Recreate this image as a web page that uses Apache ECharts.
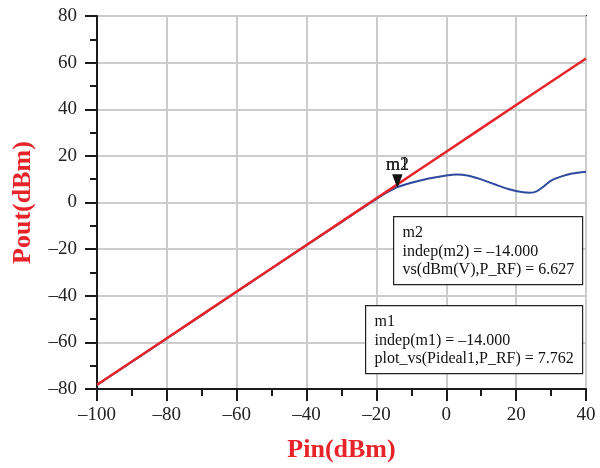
<!DOCTYPE html>
<html>
<head>
<meta charset="utf-8">
<script src="https://cdn.jsdelivr.net/npm/echarts@6/dist/echarts.min.js"></script>
<style>
  html, body { margin: 0; padding: 0; background: #fff; }
  #chart { width: 600px; height: 468px; }
</style>
</head>
<body>
<div id="chart"></div>
<script>
  // ideal (linear) output, red
  var pinIdeal = [-100, -90, -80, -70, -60, -50, -40, -30, -20, -14, -10, 0, 10, 20, 30, 40]
  var poutIdeal = [-78.2, -68.2, -58.2, -48.2, -38.2, -28.2, -18.2, -8.2, 1.8, 7.76, 11.8, 21.8, 31.8, 41.8, 51.8, 61.8]

  // simulated output, blue
  var pinReal = [-100, -80, -60, -40, -30, -25, -20, -17, -14, -10, -5, 0, 3, 6, 10, 14, 18, 22, 24, 26, 28, 30, 33, 36, 40]
  var poutReal = [-78.3, -58.3, -38.3, -18.3, -8.4, -3.4, 1.5, 4.3, 6.63, 8.5, 10.3, 11.6, 12.0, 11.6, 9.9, 7.7, 5.7, 4.4, 4.2, 4.9, 7.0, 9.4, 11.2, 12.4, 13.2]

  var xTicks = [-100, -80, -60, -40, -20, 0, 20, 40]
  var yTicks = [-80, -60, -40, -20, 0, 20, 40, 60, 80]

  var markerX = -14
  var m1Text = ['m1', 'indep(m1) = \u201314.000', 'plot_vs(Pideal1,P_RF) = 7.762']
  var m2Text = ['m2', 'indep(m2) = \u201314.000', 'vs(dBm(V),P_RF) = 6.627']

  var serif = 'Liberation Serif'
  var chart = echarts.init(document.getElementById('chart'))

  function pairs (xs, ys) {
    return xs.map(function (x, i) { return [x, ys[i]] })
  }
  function dash (v) {
    return String(v).replace('-', '\u2013')
  }
  function marker (name, y) {
    return {
      symbol: 'triangle',
      symbolRotate: 180,
      symbolSize: [10, 13],
      symbolOffset: [0, -6],
      itemStyle: { color: '#111' },
      label: {
        show: true,
        position: 'top',
        distance: 0,
        formatter: name,
        fontFamily: serif,
        fontSize: 18,
        color: '#222'
      },
      data: [{ coord: [markerX, y] }]
    }
  }
  function box (lines, left, top, width, height) {
    return {
      type: 'group',
      left: left,
      top: top,
      z: 100,
      children: [
        {
          type: 'rect',
          z: 100,
          shape: { x: 0, y: 0, width: width, height: height },
          style: { fill: '#fff', stroke: '#222', lineWidth: 1.2 }
        },
        {
          type: 'text',
          z: 101,
          x: 9,
          y: 7,
          style: {
            text: lines.join('\n'),
            font: '16px "Liberation Serif"',
            lineHeight: 18.5,
            fill: '#111'
          }
        }
      ]
    }
  }

  var option = {
    animation: false,
    grid: {
      left: 97,
      right: 14,
      top: 16,
      bottom: 79,
      show: true,
      borderColor: '#1a1a1a',
      borderWidth: 2,
      containLabel: false
    },
    xAxis: {
      type: 'value',
      min: -100,
      max: 40,
      interval: 20,
      name: 'Pin(dBm)',
      nameLocation: 'middle',
      nameGap: 48,
      nameTextStyle: { fontFamily: serif, fontWeight: 'bold', fontSize: 26, color: '#e8232a' },
      axisLine: { show: true, onZero: false, lineStyle: { color: '#1a1a1a', width: 2 } },
      axisTick: { show: true, length: 12, lineStyle: { color: '#1a1a1a', width: 2 } },
      minorTick: { show: true, splitNumber: 2, length: 7, lineStyle: { color: '#1a1a1a', width: 2 } },
      axisLabel: { margin: 17, fontFamily: serif, fontSize: 19, color: '#222', formatter: dash, customValues: xTicks },
      splitLine: { show: true, lineStyle: { color: '#cccccc', width: 2 } }
    },
    yAxis: {
      type: 'value',
      min: -80,
      max: 80,
      interval: 20,
      name: 'Pout(dBm)',
      nameLocation: 'middle',
      nameGap: 61,
      nameTextStyle: { fontFamily: serif, fontWeight: 'bold', fontSize: 26, color: '#e8232a' },
      axisLine: { show: true, onZero: false, lineStyle: { color: '#1a1a1a', width: 2 } },
      axisTick: { show: true, length: 12, lineStyle: { color: '#1a1a1a', width: 2 } },
      minorTick: { show: true, splitNumber: 2, length: 7, lineStyle: { color: '#1a1a1a', width: 2 } },
      axisLabel: { margin: 20, fontFamily: serif, fontSize: 19, color: '#222', formatter: dash, customValues: yTicks },
      splitLine: { show: true, lineStyle: { color: '#cccccc', width: 2 } }
    },
    series: [
      {
        name: 'vs(dBm(V),P_RF)',
        type: 'line',
        smooth: 0.3,
        showSymbol: false,
        lineStyle: { color: '#2e4a9e', width: 2 },
        data: pairs(pinReal, poutReal),
        markPoint: marker('m2', poutReal[pinReal.indexOf(markerX)])
      },
      {
        name: 'plot_vs(Pideal1,P_RF)',
        type: 'line',
        showSymbol: false,
        lineStyle: { color: '#e8232a', width: 2.5 },
        data: pairs(pinIdeal, poutIdeal),
        markPoint: marker('m1', poutReal[pinReal.indexOf(markerX)])
      }
    ],
    graphic: [
      box(m2Text, 393, 216, 189, 68),
      box(m1Text, 365, 305, 217, 68)
    ]
  }

  chart.setOption(option)
</script>
</body>
</html>
